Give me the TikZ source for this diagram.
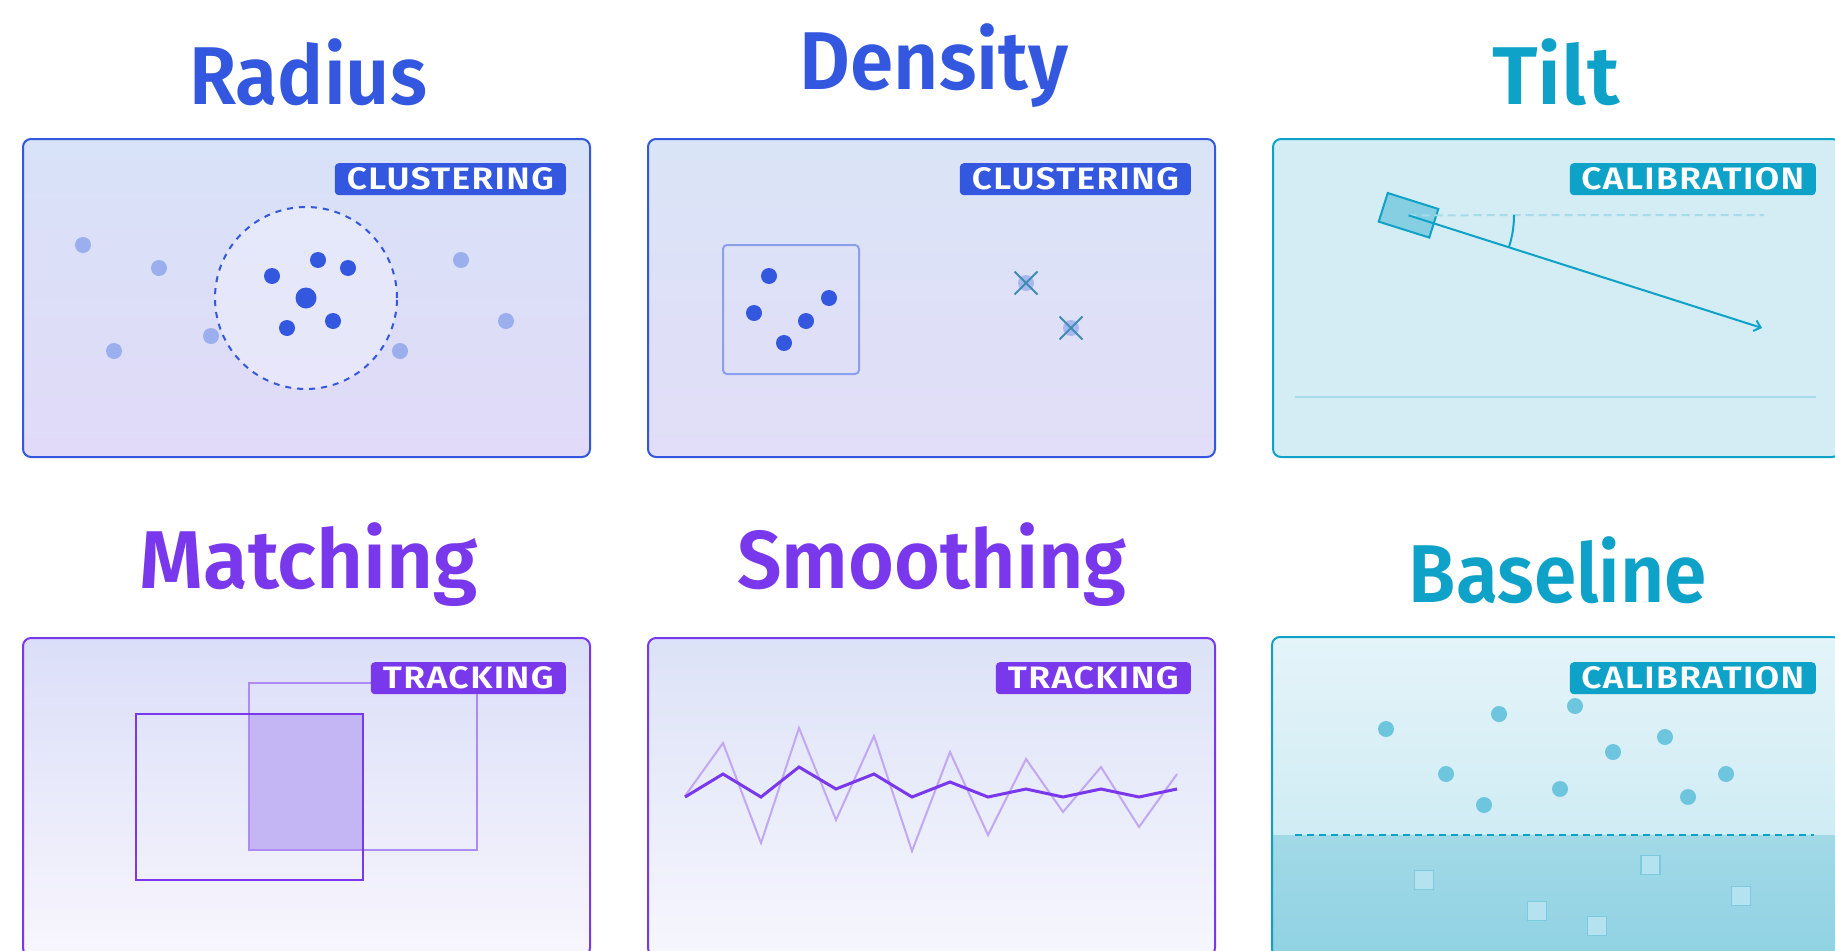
\documentclass[tikz,border=0pt]{standalone}
\usepackage{fontspec}
\usepackage{graphicx}
\setmainfont{Fira Sans}
\newfontfamily\titlefont{Fira Sans SemiBold}
\newfontfamily\badgefont{Fira Sans SemiBold}[LetterSpace=4]
\usetikzlibrary{arrows.meta}
\newcommand{\mytitle}[2]{\scalebox{#1}[1]{#2}}
\newcommand{\mybadge}[2]{\resizebox{#1}{\height}{#2}}
\definecolor{cblue}{HTML}{3457DF}
\definecolor{cbluelt}{HTML}{9BAEEE}
\definecolor{cbluebox}{HTML}{8C9FEE}
\definecolor{cxdot}{HTML}{A9B7F0}
\definecolor{cxline}{HTML}{3E8CB2}
\definecolor{ccyan}{HTML}{0EA2C8}
\definecolor{ccyanlt}{HTML}{A6DBEA}
\definecolor{ccyanbox}{HTML}{86CFE3}
\definecolor{ccyandot}{HTML}{6EC6DE}
\definecolor{csqfill}{HTML}{B4E2EE}
\definecolor{csqline}{HTML}{7CCAE0}
\definecolor{cpurple}{HTML}{7A38EC}
\definecolor{cpurplelt}{HTML}{AD8AF4}
\definecolor{cpurplefill}{HTML}{C4B5F5}
\definecolor{cnoise}{HTML}{C2A7F3}
\tikzset{
  panel/.style={shape=rectangle, rounded corners=8pt, minimum width=567pt, minimum height=318pt, line width=2pt, inner sep=0pt},
  title/.style={font=\titlefont\fontsize{82}{82}\selectfont, anchor=base, inner sep=0pt},
  badge/.style={anchor=north east, rounded corners=4pt, inner xsep=0pt, inner ysep=0pt, minimum height=32pt, text=white, font=\badgefont\fontsize{31}{31}\selectfont},
  ldot/.style={fill=cbluelt},
  ddot/.style={fill=cblue},
  sqbox/.style={draw=csqline, fill=csqfill, line width=1.5pt, minimum size=19pt, inner sep=0pt, shape=rectangle}
}
\begin{document}
\begin{tikzpicture}[x=1pt, y=-1pt]
\useasboundingbox (0,0) rectangle (1835,950);
\fill[white] (0,0) rectangle (1835,950);

% ---------- titles
\node[title, text=cblue] (t1) at (308,104) {\mytitle{0.94}{Radius}};
\node[title, text=cblue] (t2) at (934,89) {\mytitle{0.955}{Density}};
\node[title, text=ccyan] (t3) at (1556,104) {\mytitle{1.04}{Tilt}};
\node[title, text=cpurple] (t4) at (309,588) {\mytitle{0.993}{Matching}};
\node[title, text=cpurple] (t5) at (932,588) {\mytitle{0.96}{Smoothing}};
\node[title, text=ccyan] (t6) at (1558,602) {\mytitle{0.935}{Baseline}};

% ---------- panels
\node[panel, draw=cblue, top color={rgb,255:red,216;green,226;blue,248}, bottom color={rgb,255:red,225;green,218;blue,248}] (p1) at (306.5,298) {};
\node[panel, draw=cblue, top color={rgb,255:red,218;green,228;blue,247}, bottom color={rgb,255:red,226;green,221;blue,248}] (p2) at (931.5,298) {};
\node[panel, draw=ccyan, fill={rgb,255:red,212;green,236;blue,244}] (p3) at (1556.5,298) {};
\node[panel, draw=cpurple, top color={rgb,255:red,218;green,222;blue,248}, bottom color={rgb,255:red,248;green,246;blue,253}] (p4) at (306.5,797) {};
\node[panel, draw=cpurple, top color={rgb,255:red,220;green,226;blue,247}, bottom color={rgb,255:red,246;green,246;blue,253}] (p5) at (931.5,797) {};
\node[panel, top color={rgb,255:red,228;green,244;blue,249}, bottom color={rgb,255:red,196;green,231;blue,241}] (p6) at (1556.5,797) {};
\begin{scope}
  \clip[rounded corners=8pt] (p6.south west) rectangle (p6.north east);
  \shade[top color={rgb,255:red,162;green,217;blue,231}, bottom color={rgb,255:red,143;green,210;blue,227}] (1270,835) rectangle (1845,960);
\end{scope}
\draw[ccyan, line width=2pt, rounded corners=8pt] (p6.south west) rectangle (p6.north east);

% ---------- panel 1: Radius
\draw[cblue, line width=2pt, dash pattern=on 6pt off 6pt, fill=white, fill opacity=0.3] (306,298) circle[radius=91pt];
\foreach \p in {(83,245),(159,268),(114,351),(211,336),(400,351),(461,260),(506,321)}
  \fill[ldot] \p circle[radius=8pt];
\foreach \p in {(272,276),(318,260),(348,268),(333,321),(287,328)}
  \fill[ddot] \p circle[radius=8pt];
\fill[ddot] (306,298) circle[radius=10.5pt];
\node[badge, fill=cblue, minimum width=231pt] (b1) at (566,163) {\mybadge{207pt}{CLUSTERING}};

% ---------- panel 2: Density
\draw[cbluebox, line width=2pt, rounded corners=4pt] (723,245) rectangle (859,374);
\foreach \p in {(769,276),(754,313),(829,298),(806,321),(784,343)}
  \fill[ddot] \p circle[radius=8pt];
\foreach \q in {(1026,283),(1071,328)}{
  \fill[cxdot] \q circle[radius=8pt];
  \draw[cxline, line width=2pt] \q ++(-11.5,-11.5) -- ++(23,23);
  \draw[cxline, line width=2pt] \q ++(-11.5,11.5) -- ++(23,-23);
}
\node[badge, fill=cblue, minimum width=231pt] (b2) at (1191,163) {\mybadge{207pt}{CLUSTERING}};

% ---------- panel 3: Tilt
\draw[ccyanlt, line width=2.5pt] (1295,397) -- (1816,397);
\node[draw=ccyan, fill=ccyanbox, line width=2pt, rotate=-17.5, minimum width=53pt, minimum height=30pt, inner sep=0pt, shape=rectangle] (sensor) at (1408.5,215.3) {};
\coordinate (hz) at (1764,215);
\coordinate (tip) at (1762,328);
\draw[ccyanlt, line width=2pt, dash pattern=on 8pt off 5pt] (sensor.center) -- (hz);
\draw[ccyan, line width=2pt, -{Straight Barb[length=6pt,width=11pt]}] (sensor.center) -- (tip);
\draw[ccyan, line width=2pt] (1514,215) arc[start angle=0, end angle=-17.75, radius=105pt];
\node[badge, fill=ccyan, minimum width=246pt] (b3) at (1816,163) {\mybadge{223pt}{CALIBRATION}};

% ---------- panel 4: Matching
\fill[cpurplefill] (249,714) rectangle (363,850);
\draw[cpurplelt, line width=2pt] (249,683) rectangle (477,850);
\draw[cpurple, line width=2.5pt] (136,714) rectangle (363,880);
\node[badge, fill=cpurple, minimum width=195pt] (b4) at (566,662) {\mybadge{171pt}{TRACKING}};

% ---------- panel 5: Smoothing
\draw[cnoise, line width=2pt] (685,796) -- (723,743) -- (761,843) -- (799,728) -- (836,820) -- (874,736) -- (912,851) -- (950,752) -- (988,835) -- (1026,759) -- (1063,812) -- (1101,767) -- (1139,827) -- (1177,774);
\draw[cpurple, line width=3pt] (685,797) -- (723,774) -- (761,797) -- (799,767) -- (836,789) -- (874,774) -- (912,797) -- (950,782) -- (988,797) -- (1026,789) -- (1063,797) -- (1101,789) -- (1139,797) -- (1177,789);
\node[badge, fill=cpurple, minimum width=195pt] (b5) at (1191,662) {\mybadge{171pt}{TRACKING}};

% ---------- panel 6: Baseline
\foreach \p in {(1386,729),(1499,714),(1575,706),(1446,774),(1484,805),(1560,789),(1613,752),(1665,737),(1726,774),(1688,797)}
  \fill[ccyandot] \p circle[radius=8pt];
\coordinate (bl1) at (1295,835);
\coordinate (bl2) at (1814,835);
\draw[ccyan, line width=2pt, dash pattern=on 7pt off 5pt] (bl1) -- (bl2);
\node[sqbox] (s1) at (1424,880) {};
\node[sqbox] (s2) at (1537,911) {};
\node[sqbox] (s3) at (1597,926) {};
\node[sqbox] (s4) at (1650.5,865) {};
\node[sqbox] (s5) at (1741,896) {};
\node[badge, fill=ccyan, minimum width=246pt] (b6) at (1816,662) {\mybadge{223pt}{CALIBRATION}};
\end{tikzpicture}
\end{document}
